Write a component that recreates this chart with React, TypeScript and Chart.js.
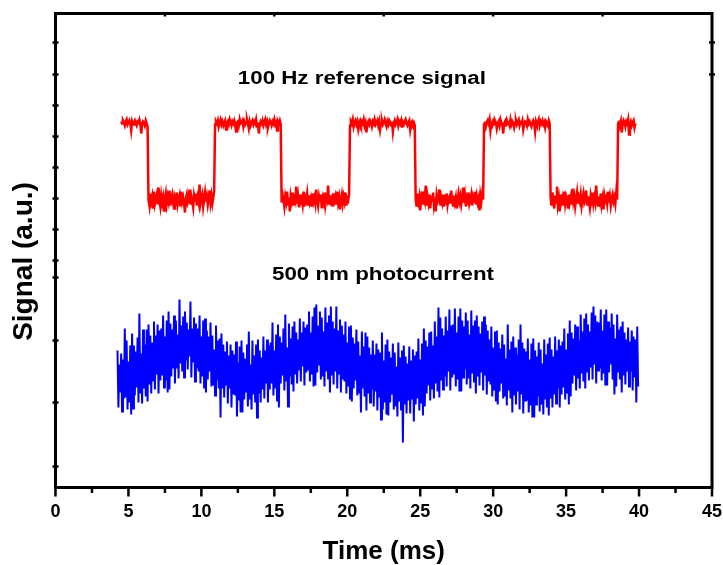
import React, { useEffect, useRef } from "react";
import { Chart, registerables } from "chart.js";

Chart.register(...registerables);

// ---- axes ----
const X_MIN = 0;
const X_MAX = 45;
const X_LABEL_STEP = 5;
const X_MAJOR_TICKS = [0, 5, 10, 15, 20, 25, 30, 35, 40, 45];
const X_MINOR_TICKS = [2.5, 7.5, 12.5, 17.5, 22.5, 27.5, 32.5, 37.5, 42.5];
const X_TOP_TICKS = [7.5, 15, 22.5, 30, 37.5];
const Y_MIN = 0;
const Y_MAX = 474;
const Y_LEFT_TICKS = [21, 85, 147, 210, 227, 258, 289, 320, 351, 382, 413, 445];
const Y_RIGHT_TICKS = [413, 445];

const X_TITLE = "Time (ms)";
const Y_TITLE = "Signal (a.u.)";

// ---- series (time start / sample step in ms, values in a.u.) ----
const RED_T0 = 4.5;
const RED_DT = 0.0625;
const RED_SIGNAL = [
  // high
  366, 364, 367, 365, 362, 366, 368, 363, 365, 367, 364, 357, 366, 363, 365, 367, 364, 362, 366, 365,
  368, 364, 354, 363, 366, 365, 362, 367, 364, 361,
  // low
  288, 282, 294, 286, 291, 280, 296, 284, 289, 293, 283, 300, 287, 281, 292, 285, 290, 277, 288, 294,
  284, 291, 286, 297, 282, 289, 293, 285, 279, 290, 287, 295, 283, 288, 292, 281, 296, 286, 290, 284,
  275, 289, 293, 285, 288, 298, 283, 291, 286, 280, 292, 287, 294, 282, 290, 285, 303, 284, 289, 293,
  281, 288, 295, 286, 291, 283, 289, 297, 285, 292, 284, 290, 296,
  // high
  363, 366, 364, 367, 361, 365, 368, 363, 366, 362, 365, 367, 358, 364, 366, 363, 368, 365, 362, 366,
  364, 367, 363, 356, 365, 366, 362, 368, 364, 365, 367, 361, 366, 363, 365, 368, 364, 359, 366, 362,
  365, 367, 363, 366, 364, 368, 361, 365, 354, 363, 366, 364, 367, 362, 365, 368, 363, 366, 360, 364,
  367, 365, 362, 366, 364, 368, 363, 365, 357, 366, 364, 367, 363,
  // low
  285, 293, 288, 281, 291, 286, 296, 283, 290, 276, 292, 287, 295, 282, 289, 286, 301, 284, 291, 280,
  293, 286, 289, 283, 296, 281, 290, 287, 294, 283, 292, 285, 289, 281, 294, 286, 290, 284, 298, 288,
  282, 291, 286, 293, 279, 289, 285, 295, 283, 290, 287, 302, 284, 292, 286, 289, 281, 294, 287, 291,
  283, 296, 285, 290, 278, 288, 293, 284, 291, 286, 295, 282, 289, 287, 293,
  // high
  362, 366, 364, 368, 361, 365, 367, 363, 366, 359, 365, 367, 363, 366, 364, 368, 362, 365, 355, 364,
  366, 363, 367, 365, 361, 366, 364, 368, 363, 365, 367, 362, 366, 358, 364, 367, 363, 365, 368, 364,
  361, 366, 363, 367, 365, 362, 366, 356, 364, 367, 363, 365, 368, 362, 366, 364, 367, 360, 365, 363,
  366, 368, 364, 362, 365, 367, 358, 364, 366, 363, 365, 362,
  // low
  289, 281, 294, 286, 291, 277, 288, 296, 283, 290, 286, 302, 282, 291, 285, 293, 279, 289, 287, 295,
  283, 290, 276, 292, 286, 289, 298, 282, 290, 285, 293, 281, 288, 286, 294, 283, 289, 291, 284, 297,
  287, 282, 292, 285, 290, 279, 288, 294, 286, 291, 283, 289, 300, 285, 292, 281, 290, 287, 295, 284,
  288, 293, 282, 290, 286, 296, 283, 291, 285, 289, 277, 292, 286, 294, 288,
  // high
  363, 366, 361, 365, 367, 364, 368, 357, 364, 362, 366, 363, 367, 365, 359, 364, 366, 362, 368, 365,
  363, 354, 364, 366, 361, 367, 364, 365, 362, 368, 363, 366, 364, 360, 365, 367, 363, 366, 368, 362,
  365, 364, 367, 358, 363, 366, 365, 362, 368, 364, 366, 363, 361, 365, 367, 364, 356, 366, 363, 365,
  368, 362, 366, 364, 367, 363, 365, 360, 366, 364, 362, 367, 364,
  // low
  290, 282, 295, 286, 279, 292, 285, 301, 283, 289, 276, 293, 286, 290, 282, 296, 284, 291, 287, 279,
  293, 285, 290, 283, 299, 286, 291, 281, 288, 295, 284, 290, 286, 293, 282, 289, 294, 285, 288, 297,
  283, 291, 286, 280, 292, 287, 295, 284, 290, 285, 302, 288, 282, 291, 286, 294, 283, 289, 278, 292,
  287, 290, 284, 296, 285, 291, 282, 289, 293, 286, 290, 284, 295, 288,
  // high
  364, 367, 362, 366, 355, 363, 367, 365, 361, 366, 364, 368, 353, 363, 366, 362, 365, 367, 360, 364,
];

const BLUE_T0 = 4.25;
const BLUE_DT = 0.0625;
const BLUE_SIGNAL = [
  137, 80, 123, 95, 134, 76, 128, 89, 159, 90, 147, 78, 126, 85, 142, 73,
  154, 79, 142, 92, 136, 100, 150, 85, 174, 94, 134, 84, 158, 99, 143, 91,
  158, 86, 163, 103, 152, 94, 145, 107, 166, 98, 152, 113, 163, 94, 157, 107,
  159, 112, 172, 100, 151, 107, 167, 95, 176, 98, 164, 111, 158, 119, 172, 104,
  167, 119, 153, 109, 188, 124, 162, 116, 171, 110, 176, 127, 165, 118, 158, 131,
  186, 110, 159, 125, 170, 106, 164, 119, 159, 116, 172, 104, 151, 111, 167, 99,
  169, 95, 157, 108, 151, 116, 165, 101, 152, 102, 138, 92, 162, 107, 147, 99,
  149, 70, 154, 99, 143, 90, 136, 103, 146, 84, 132, 99, 143, 80, 137, 93,
  133, 92, 146, 71, 125, 87, 141, 75, 147, 75, 135, 88, 129, 96, 143, 81,
  156, 88, 123, 78, 147, 93, 132, 85, 143, 70, 148, 94, 137, 85, 130, 98,
  151, 89, 137, 104, 148, 85, 142, 98, 145, 104, 165, 92, 137, 99, 153, 87,
  163, 80, 151, 104, 145, 112, 159, 97, 173, 106, 140, 81, 164, 111, 149, 103,
  161, 96, 166, 113, 155, 104, 148, 117, 169, 106, 155, 121, 166, 102, 160, 115,
  163, 118, 176, 106, 155, 113, 171, 101, 180, 102, 183, 115, 162, 123, 176, 108,
  170, 111, 156, 101, 180, 116, 165, 108, 172, 95, 181, 112, 166, 103, 159, 116,
  181, 99, 157, 114, 168, 95, 162, 108, 153, 106, 166, 94, 145, 101, 161, 89,
  162, 86, 150, 99, 144, 107, 158, 92, 146, 94, 132, 75, 156, 99, 141, 91,
  155, 77, 151, 94, 140, 85, 133, 98, 147, 81, 133, 96, 144, 77, 138, 90,
  135, 68, 155, 78, 127, 85, 143, 73, 148, 72, 136, 85, 130, 93, 144, 78,
  135, 81, 121, 71, 145, 86, 130, 78, 137, 45, 142, 83, 131, 74, 124, 87,
  141, 74, 127, 89, 138, 66, 132, 83, 136, 89, 149, 77, 128, 84, 144, 72,
  159, 81, 147, 94, 141, 102, 155, 87, 156, 99, 142, 89, 166, 104, 151, 96,
  180, 90, 170, 107, 159, 98, 152, 111, 171, 101, 157, 116, 178, 97, 162, 110,
  163, 113, 179, 101, 155, 108, 171, 96, 179, 96, 167, 110, 161, 118, 175, 103,
  167, 109, 153, 99, 177, 114, 162, 106, 167, 94, 172, 111, 161, 102, 154, 115,
  166, 97, 171, 112, 163, 93, 157, 106, 148, 103, 161, 91, 140, 98, 156, 86,
  157, 83, 145, 96, 139, 104, 153, 89, 143, 92, 129, 82, 163, 97, 138, 89,
  146, 75, 151, 92, 140, 83, 133, 96, 148, 78, 163, 93, 145, 74, 139, 87,
  136, 87, 149, 75, 128, 82, 144, 70, 149, 70, 137, 83, 131, 91, 145, 76,
  138, 83, 124, 73, 148, 88, 133, 80, 144, 72, 150, 89, 138, 80, 131, 93,
  151, 84, 137, 99, 148, 80, 142, 93, 146, 100, 159, 88, 138, 95, 154, 83,
  167, 91, 155, 104, 149, 112, 163, 97, 161, 109, 147, 99, 173, 114, 156, 106,
  169, 99, 174, 116, 163, 107, 156, 120, 175, 108, 181, 123, 172, 104, 166, 117,
  165, 119, 178, 107, 157, 114, 173, 102, 178, 102, 166, 115, 160, 123, 174, 108,
  163, 93, 149, 101, 173, 116, 158, 108, 161, 95, 166, 112, 155, 103, 148, 116,
  160, 101, 146, 116, 157, 97, 151, 110, 148, 85, 161, 101,
];

// annotation texts, anchored in data coordinates (center x, baseline y)
const ANNOTATION_TEXTS = ["100 Hz reference signal", "500 nm photocurrent"];
const ANNOTATION_X = [21.0, 22.45];
const ANNOTATION_Y = [404, 208];

const FONT = "'Liberation Sans', Arial, Helvetica, sans-serif";

const framePlugin = {
  id: "frameAndText",
  afterDraw(chart: any) {
    const { ctx, chartArea: a, scales } = chart;
    const xs = scales.x;
    const ys = scales.y;
    ctx.save();
    ctx.strokeStyle = "#000";
    ctx.lineCap = "butt";
    // frame
    ctx.lineWidth = 3;
    ctx.strokeRect(a.left, a.top, a.right - a.left, a.bottom - a.top);
    // ticks
    ctx.lineWidth = 2.5;
    ctx.beginPath();
    X_MAJOR_TICKS.forEach((v) => {
      const px = xs.getPixelForValue(v);
      ctx.moveTo(px, a.bottom);
      ctx.lineTo(px, a.bottom + 9);
    });
    X_MINOR_TICKS.forEach((v) => {
      const px = xs.getPixelForValue(v);
      ctx.moveTo(px, a.bottom);
      ctx.lineTo(px, a.bottom + 5.5);
    });
    X_TOP_TICKS.forEach((v) => {
      const px = xs.getPixelForValue(v);
      ctx.moveTo(px, a.top - 1.5);
      ctx.lineTo(px, a.top + 3);
    });
    Y_LEFT_TICKS.forEach((v) => {
      const py = ys.getPixelForValue(v);
      ctx.moveTo(a.left - 3, py);
      ctx.lineTo(a.left + 3, py);
    });
    Y_RIGHT_TICKS.forEach((v) => {
      const py = ys.getPixelForValue(v);
      ctx.moveTo(a.right - 3, py);
      ctx.lineTo(a.right + 3, py);
    });
    ctx.stroke();

    // annotations
    ctx.fillStyle = "#000";
    ctx.textAlign = "center";
    ctx.textBaseline = "alphabetic";
    ctx.font = `bold 18px ${FONT}`;
    ANNOTATION_TEXTS.forEach((t, i) => {
      const px = xs.getPixelForValue(ANNOTATION_X[i]);
      const py = ys.getPixelForValue(ANNOTATION_Y[i]);
      ctx.save();
      ctx.translate(px, py);
      ctx.scale(1.24, 1);
      ctx.fillText(t, 0, 0);
      ctx.restore();
    });

    // axis titles
    ctx.font = `bold 26px ${FONT}`;
    ctx.fillText(X_TITLE, (a.left + a.right) / 2, a.bottom + 71);
    ctx.font = `bold 28px ${FONT}`;
    ctx.save();
    ctx.translate(a.left - 24, (a.top + a.bottom) / 2 + 11);
    ctx.rotate(-Math.PI / 2);
    ctx.fillText(Y_TITLE, 0, 0);
    ctx.restore();
    ctx.restore();
  },
};

export default function App() {
  const canvasRef = useRef<HTMLCanvasElement | null>(null);

  useEffect(() => {
    if (!canvasRef.current) return;
    const redData = RED_SIGNAL.map((v, i) => ({ x: RED_T0 + i * RED_DT, y: v }));
    const blueData = BLUE_SIGNAL.map((v, i) => ({ x: BLUE_T0 + i * BLUE_DT, y: v }));
    const chart = new Chart(canvasRef.current, {
      type: "scatter",
      data: {
        datasets: [
          {
            label: "100 Hz reference signal",
            data: redData,
            showLine: true,
            borderColor: "#ff0000",
            backgroundColor: "#ff0000",
            borderWidth: 2.5,
            pointRadius: 0,
            tension: 0,
          },
          {
            label: "500 nm photocurrent",
            data: blueData,
            showLine: true,
            borderColor: "#0000ff",
            backgroundColor: "#0000ff",
            borderWidth: 2,
            pointRadius: 0,
            tension: 0,
          },
        ],
      },
      options: {
        animation: false,
        responsive: true,
        maintainAspectRatio: false,
        layout: { padding: { top: 13.5, right: 11, left: 0, bottom: 0 } },
        plugins: { legend: { display: false }, tooltip: { enabled: false } },
        scales: {
          x: {
            type: "linear",
            min: X_MIN,
            max: X_MAX,
            grid: { display: false, drawTicks: false },
            border: { display: false },
            ticks: {
              stepSize: X_LABEL_STEP,
              color: "#000",
              padding: 14,
              maxRotation: 0,
              autoSkip: false,
              font: { family: FONT, size: 18, weight: "bold" },
            },
            afterFit: (s: any) => {
              s.height = 77.5;
              s.paddingLeft = 0;
              s.paddingRight = 0;
            },
          },
          y: {
            min: Y_MIN,
            max: Y_MAX,
            grid: { display: false, drawTicks: false },
            border: { display: false },
            ticks: { display: false },
            afterFit: (s: any) => {
              s.width = 55.5;
              s.paddingTop = 0;
              s.paddingBottom = 0;
            },
          },
        },
      },
      plugins: [framePlugin],
    });
    return () => chart.destroy();
  }, []);

  return (
    <div style={{ position: "absolute", left: 0, top: 0, width: 723, height: 565 }}>
      <canvas ref={canvasRef} />
    </div>
  );
}
